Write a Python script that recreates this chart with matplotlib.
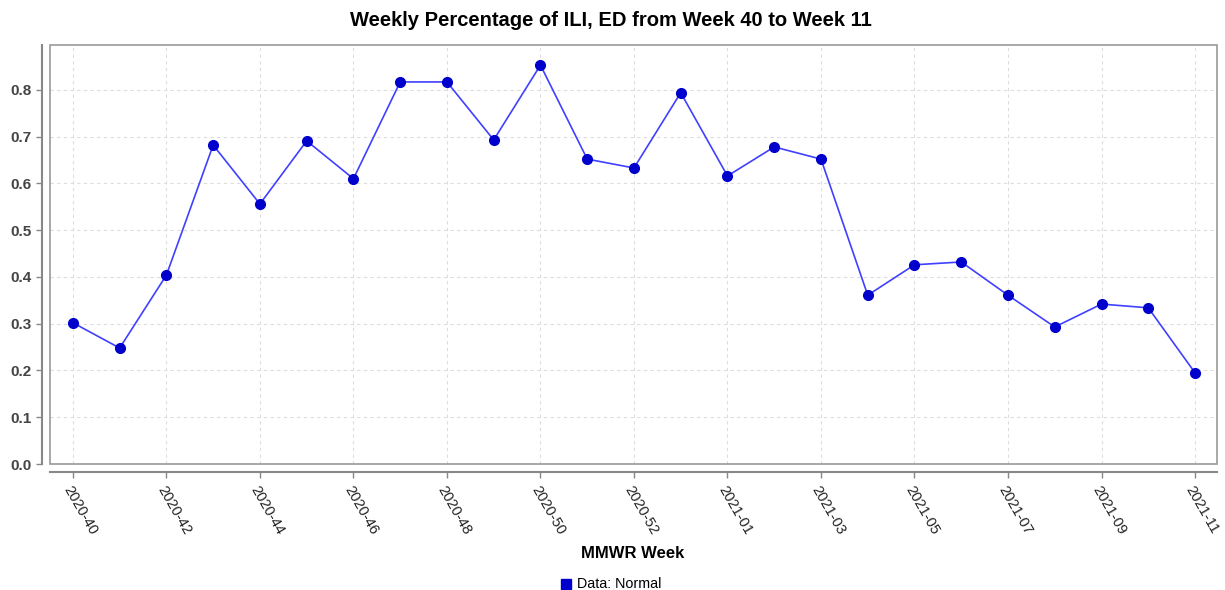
import matplotlib
matplotlib.use("Agg")
import matplotlib.pyplot as plt
from matplotlib.patches import Rectangle

plt.rcParams['font.family'] = ['Liberation Sans', 'DejaVu Sans']

weeks = ['2020-40', '2020-41', '2020-42', '2020-43', '2020-44', '2020-45', '2020-46',
         '2020-47', '2020-48', '2020-49', '2020-50', '2020-51', '2020-52', '2020-53',
         '2021-01', '2021-02', '2021-03', '2021-04', '2021-05', '2021-06', '2021-07',
         '2021-08', '2021-09', '2021-10', '2021-11']
pct_ili = [0.302, 0.248, 0.404, 0.682, 0.556, 0.691, 0.610,
           0.817, 0.817, 0.693, 0.853, 0.652, 0.633, 0.794,
           0.616, 0.678, 0.652, 0.361, 0.426, 0.432, 0.361,
           0.293, 0.342, 0.334, 0.195]
labeled_weeks = ['2020-40', '2020-42', '2020-44', '2020-46', '2020-48', '2020-50',
                 '2020-52', '2021-01', '2021-03', '2021-05', '2021-07', '2021-09', '2021-11']

W, H = 1225, 590
fig = plt.figure(figsize=(W / 100, H / 100), dpi=100)
ax = fig.add_axes([50 / W, 1 - 464 / H, (1217 - 50) / W, (464 - 45) / H])

# axis lines sit a little outside the plot box
for s in ['top', 'right']:
    ax.spines[s].set_visible(False)
for s in ['left', 'bottom']:
    ax.spines[s].set_position(('outward', 6))
    ax.spines[s].set_color('#888888')
    ax.spines[s].set_linewidth(1.5)

x = list(range(len(weeks)))
ax.plot(x, pct_ili, color='#4040ff', lw=1.2, zorder=3)
ax.plot(x, pct_ili, 'o', color='#0000cc', ms=7, zorder=4)

ax.set_xlim(-0.49, len(weeks) - 1 + 0.47)
ax.set_ylim(0, 0.896)

ax.tick_params(axis='both', color='#888888', length=4, width=1)
ax.tick_params(axis='x', pad=4)

tick_pos = [weeks.index(w) for w in labeled_weeks]
ax.set_xticks(tick_pos)
ax.set_xticklabels(labeled_weeks, rotation=-60, ha='left', va='top',
                   rotation_mode='anchor', fontsize=10.5, color='#222222')
ax.set_yticks([i / 10 for i in range(9)])
ax.set_yticklabels([f'{i / 10:.1f}' for i in range(9)], fontsize=11,
                   fontweight='bold', color='#444444')

ax.grid(True, color='#dddddd', ls=(0, (3, 3)), lw=0.8)
ax.set_axisbelow(True)

ax.add_patch(Rectangle((0, 0), 1, 1, transform=ax.transAxes, fill=False,
                       ec='#999999', lw=1.2, clip_on=False, zorder=5))

fig.text(611 / W, 1 - 20 / H, 'Weekly Percentage of ILI, ED from Week 40 to Week 11',
         ha='center', va='center', fontsize=14.5, fontweight='bold')
fig.text(633 / W, 1 - 554 / H, 'MMWR Week', ha='center', va='center',
         fontsize=12, fontweight='bold')
fig.patches.append(Rectangle((561 / W, 1 - 589 / H), 10 / W, 10 / H,
                             transform=fig.transFigure, color='#0000cc'))
fig.text(577 / W, 1 - 584 / H, 'Data: Normal', ha='left', va='center', fontsize=10.3)

fig.savefig('out.png', dpi=100)
